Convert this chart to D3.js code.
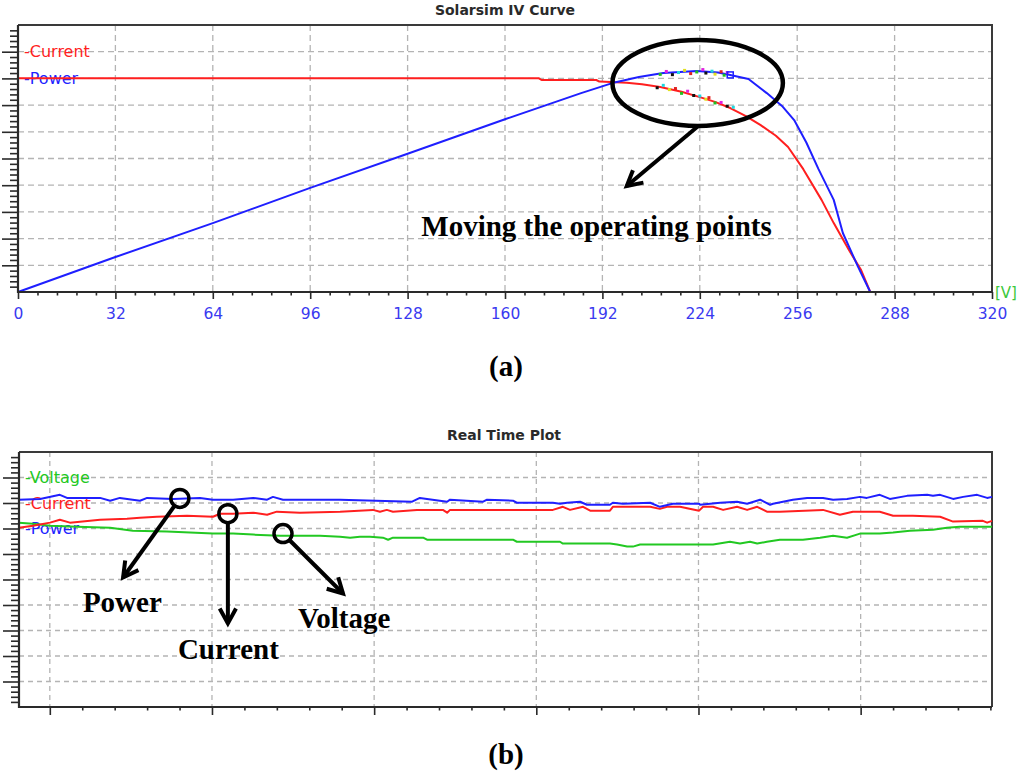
<!DOCTYPE html>
<html><head><meta charset="utf-8">
<script src="https://cdn.jsdelivr.net/npm/d3@7"></script>
<style>body{margin:0;background:#fff} svg{display:block}</style>
</head><body>
<svg id="c" width="1024" height="776"></svg>
<script>
// ---------- (a) Solarsim IV curve data ----------
const ivTicks = [0, 32, 64, 96, 128, 160, 192, 224, 256, 288, 320];
const ivVoltage = [0, 171, 172, 190, 191, 200, 205, 211, 218, 224, 229, 234, 239, 244, 249, 253, 258, 264, 268, 273, 277, 280];
const ivCurrent = [8.01, 8.01, 7.94, 7.94, 7.88, 7.84, 7.78, 7.68, 7.50, 7.30, 7.12, 6.89, 6.60, 6.25, 5.85, 5.43, 4.60, 3.45, 2.58, 1.57, 0.82, 0];
const pvVoltage = [0, 32, 64, 96, 128, 160, 185, 196, 204, 212, 223, 230, 234, 240, 246, 251, 255, 259, 263, 268, 271, 276, 280];
const pvPower = [0, 1.31, 2.58, 3.90, 5.18, 6.47, 7.45, 7.85, 8.05, 8.20, 8.28, 8.22, 8.13, 7.98, 7.45, 6.97, 6.44, 5.60, 4.60, 3.45, 2.21, 0.94, 0];
// operating points (moving)
const opPowerV = [211, 213, 215, 217, 219, 221, 223, 225, 226, 228, 229, 231, 232, 233];
const opPowerP = [8.15, 8.26, 8.14, 8.22, 8.30, 8.18, 8.24, 8.33, 8.20, 8.27, 8.16, 8.25, 8.12, 8.22];
const opCurrentV = [210, 212, 214, 216, 218, 220, 222, 224, 226, 227, 229, 231, 233, 235];
const opCurrentI = [7.65, 7.74, 7.58, 7.62, 7.44, 7.52, 7.36, 7.34, 7.22, 7.28, 7.08, 7.10, 6.96, 6.92];
const opColors = ["#20c020", "#e020e0", "#101010", "#20d8e0", "#e0e020", "#e02020"];
const opLast = [234, 8.13];

// ---------- (b) Real time plot data ----------
const rtPowerT = [-9.5, -3, 3.1, 5.3, 15.5, 18.6, 21.6, 27.8, 30, 38, 46.3, 50.3, 56.5, 62.7, 67, 68.8, 71.9, 81.1, 89.5, 111.7, 114.1, 116.3, 122.5, 123.4, 133.6, 134.8, 142.8, 144, 155.1, 157.3, 159.5, 163.5, 165.6, 167.5, 172.7, 173.6, 176.7, 185.1, 188.1, 192.1, 194.3, 200.2, 200.5, 206.7, 211.9, 215, 219, 222.1, 223, 229.1, 233.5, 238.4, 241.5, 245.8, 249.8, 251.9, 255.9, 259, 264.3, 270.5, 272.3, 274.5, 278.5, 281.6, 285.9, 289, 290.5];
const rtPowerV = [8.13, 8.16, 8.32, 8.20, 8.20, 8.09, 8.20, 8.09, 8.20, 8.16, 8.20, 8.13, 8.13, 8.20, 8.13, 8.24, 8.13, 8.13, 8.13, 8.05, 8.20, 8.16, 8.05, 8.13, 8.05, 8.13, 8.09, 8.01, 8.01, 7.97, 8.01, 8.05, 7.93, 7.93, 7.93, 8.01, 7.97, 8.01, 7.85, 7.97, 7.97, 7.97, 7.93, 8.01, 8.05, 7.97, 8.13, 7.93, 7.97, 8.13, 8.20, 8.20, 8.13, 8.16, 8.24, 8.20, 8.32, 8.16, 8.28, 8.32, 8.28, 8.32, 8.16, 8.24, 8.32, 8.20, 8.24];
const rtCurrentT = [-9.5, -5.2, 0.06, 3.1, 6.2, 15.5, 23.8, 27.8, 33, 42.3, 50.3, 52.5, 56.5, 62.7, 67, 70, 77.1, 89.5, 99.6, 101.8, 103.9, 105.8, 113.2, 121.2, 122.5, 123.4, 155.1, 158.2, 160.4, 164.4, 166.6, 172.7, 173.6, 185.1, 188.1, 190.3, 194.3, 200.2, 201.4, 204.5, 207.6, 211.9, 215, 218.1, 221.1, 225.1, 238.4, 243.6, 247.6, 251.9, 255.9, 260, 266.1, 274.5, 278.5, 287.7, 289, 290.5];
const rtCurrentV = [7.03, 7.11, 7.23, 7.34, 7.23, 7.34, 7.38, 7.42, 7.46, 7.50, 7.46, 7.58, 7.58, 7.62, 7.54, 7.66, 7.62, 7.66, 7.73, 7.66, 7.73, 7.66, 7.73, 7.73, 7.62, 7.73, 7.73, 7.85, 7.73, 7.85, 7.70, 7.70, 7.85, 7.85, 7.77, 7.85, 7.85, 7.70, 7.85, 7.85, 7.73, 7.85, 7.73, 7.85, 7.66, 7.66, 7.73, 7.54, 7.66, 7.66, 7.66, 7.50, 7.50, 7.46, 7.27, 7.30, 7.23, 7.30];
const rtVoltageT = [-9.5, -5.2, 0.06, 8.4, 18.6, 25.6, 36.1, 50.3, 56.5, 62.7, 71, 83.3, 89.5, 92.6, 95.6, 98.7, 102.7, 104.3, 105.8, 115.1, 116.3, 142.8, 144, 157.3, 158.2, 172.7, 174.9, 178, 179.8, 182, 194.3, 204.5, 209.7, 212.8, 215.9, 218.1, 221.1, 225.1, 232.2, 237.5, 241.5, 245.8, 249.8, 255.9, 260, 265.2, 272.3, 276.6, 280.6, 290.5];
const rtVoltageV = [7.23, 7.19, 7.11, 7.07, 7.03, 6.91, 6.88, 6.80, 6.80, 6.76, 6.72, 6.72, 6.68, 6.64, 6.68, 6.68, 6.64, 6.56, 6.64, 6.64, 6.56, 6.56, 6.48, 6.48, 6.41, 6.41, 6.37, 6.29, 6.29, 6.37, 6.37, 6.37, 6.48, 6.41, 6.48, 6.41, 6.48, 6.56, 6.56, 6.64, 6.72, 6.64, 6.80, 6.80, 6.84, 6.91, 6.95, 7.03, 7.07, 7.07];
const rtMajorTicks = [0, 50, 100, 150, 200, 250];

const RED = "#ff1f1f", BLUE = "#1f1fff", GREEN = "#22c822";
const svg = d3.select("#c");

function panel(cfg) {
  const x = d3.scaleLinear().domain(cfg.xDomain).range([cfg.left, cfg.right]);
  const y = d3.scaleLinear().domain([0, 10]).range([cfg.bottom, cfg.top]);
  const g = svg.append("g");
  g.append("g").selectAll("line").data(d3.range(1, 10)).join("line")
    .attr("x1", cfg.left).attr("x2", cfg.right).attr("y1", d => y(d)).attr("y2", d => y(d))
    .attr("stroke", "#b4b4b4").attr("stroke-width", 1.3).attr("stroke-dasharray", cfg.dash);
  g.append("g").selectAll("line").data(cfg.gridX).join("line")
    .attr("x1", d => x(d)).attr("x2", d => x(d)).attr("y1", cfg.top).attr("y2", cfg.bottom)
    .attr("stroke", "#b4b4b4").attr("stroke-width", 1.3).attr("stroke-dasharray", cfg.dash);
  g.append("path").attr("d", `M${cfg.left},${cfg.top}H${cfg.right}V${cfg.bottom}`)
    .attr("fill", "none").attr("stroke", "#3a3a3a").attr("stroke-width", 2);
  g.append("text").attr("x", cfg.titleX).attr("y", cfg.titleY).attr("text-anchor", "middle")
    .attr("font-family", "DejaVu Sans").attr("font-weight", "bold").attr("font-size", 14)
    .attr("fill", "#2a2a2a").text(cfg.title);
  return {x, y, g};
}

function axes(p, cfg) {
  const yMinor = d3.range(1, 50).filter(i => i % 5).map(i => i / 5);
  const yMajor = d3.range(1, 10);
  const style = s => { s.select(".domain").remove(); s.selectAll(".tick line").attr("stroke", "#2a2a2a").attr("stroke-width", 1.6); };
  p.g.append("g").attr("transform", `translate(${cfg.left},0)`)
    .call(d3.axisLeft(p.y).tickValues(yMinor).tickSize(8).tickFormat("")).call(style);
  p.g.append("g").attr("transform", `translate(${cfg.left},0)`)
    .call(d3.axisLeft(p.y).tickValues(yMajor).tickSize(16).tickFormat("")).call(style);
  p.g.append("g").attr("transform", `translate(0,${cfg.bottom})`)
    .call(d3.axisBottom(p.x).tickValues(cfg.xMinor).tickSize(3.5).tickFormat("")).call(style);
  const maj = p.g.append("g").attr("transform", `translate(0,${cfg.bottom})`)
    .call(d3.axisBottom(p.x).tickValues(cfg.xMajor).tickSize(cfg.majorSize).tickPadding(9)
      .tickFormat(cfg.labels ? d3.format("d") : "")).call(style);
  maj.selectAll("text").attr("font-family", "DejaVu Sans").attr("font-size", 15.5).attr("fill", "#3a3af0");
  p.g.append("path").attr("d", `M${cfg.left},${cfg.top}V${cfg.bottom}H${cfg.right}`)
    .attr("fill", "none").attr("stroke", "#2a2a2a").attr("stroke-width", 2.2);
}

function legend(p, items) {
  p.g.append("g").selectAll("text").data(items).join("text")
    .attr("x", p.x.range()[0] + 6).attr("y", d => p.y(d.at)).attr("dy", "0.36em")
    .attr("font-family", "DejaVu Sans").attr("font-size", 16).attr("fill", d => d.color)
    .text(d => d.label);
}

function series(p, xs, ys, color, w) {
  const line = d3.line().x(d => p.x(d[0])).y(d => p.y(d[1]));
  p.g.append("path").datum(d3.zip(xs, ys)).attr("d", line)
    .attr("fill", "none").attr("stroke", color).attr("stroke-width", w || 2).attr("stroke-linejoin", "round");
}

function arrow(g, x1, y1, x2, y2) {
  g.append("line").attr("x1", x1).attr("y1", y1).attr("x2", x2).attr("y2", y2)
    .attr("stroke", "#000").attr("stroke-width", 4);
  const a = Math.atan2(y2 - y1, x2 - x1), L = 17, s = 0.5;
  const p1 = [x2 - L * Math.cos(a - s), y2 - L * Math.sin(a - s)];
  const p2 = [x2 - L * Math.cos(a + s), y2 - L * Math.sin(a + s)];
  g.append("path").attr("d", `M${p1}L${x2},${y2}L${p2}`)
    .attr("fill", "none").attr("stroke", "#000").attr("stroke-width", 4).attr("stroke-linejoin", "miter");
}

function bigText(g, x, y, t) {
  g.append("text").attr("x", x).attr("y", y).attr("font-family", "Liberation Serif")
    .attr("font-weight", "bold").attr("font-size", 29).attr("fill", "#000").text(t);
}

// ---------------- Panel (a) ----------------
const cfgA = {left: 18, right: 992, top: 25, bottom: 292, xDomain: [0, 320],
  gridX: ivTicks.slice(1, -1), dash: "6,4", title: "Solarsim IV Curve", titleX: 505, titleY: 15,
  xMajor: ivTicks, xMinor: d3.range(0, 50).filter(i => i % 5).map(i => i * 6.4), majorSize: 7, labels: true};
const A = panel(cfgA);
legend(A, [{label: "-Current", at: 9, color: RED}, {label: "-Power", at: 8, color: BLUE}]);
series(A, ivVoltage, ivCurrent, RED, 2);
series(A, pvVoltage, pvPower, BLUE, 2);
A.g.append("g").selectAll("rect").data(d3.zip(opPowerV, opPowerP).concat(d3.zip(opCurrentV, opCurrentI))).join("rect")
  .attr("x", d => A.x(d[0]) - 1.5).attr("y", d => A.y(d[1]) - 1.5).attr("width", 3).attr("height", 3)
  .attr("fill", (d, i) => opColors[i % opColors.length]);
A.g.append("rect").attr("x", A.x(opLast[0]) - 3).attr("y", A.y(opLast[1]) - 3).attr("width", 6).attr("height", 6)
  .attr("fill", "none").attr("stroke", BLUE).attr("stroke-width", 1.5);
axes(A, cfgA);
A.g.append("text").attr("x", 995).attr("y", 298).attr("font-family", "DejaVu Sans").attr("font-size", 15)
  .attr("fill", "#3cc83c").text("[V]");
A.g.append("ellipse").attr("cx", A.x(223.3)).attr("cy", A.y(7.83))
  .attr("rx", A.x(223.3 + 28) - A.x(223.3)).attr("ry", A.y(7.83) - A.y(7.83 + 1.61))
  .attr("fill", "none").attr("stroke", "#000").attr("stroke-width", 4.5);
arrow(A.g, A.x(223.3), A.y(6.2), A.x(200), A.y(3.97));
bigText(A.g, A.x(132.5), A.y(2.1), "Moving the operating points");
svg.append("text").attr("x", 506).attr("y", 376).attr("text-anchor", "middle").attr("font-family", "Liberation Serif")
  .attr("font-size", 29).attr("font-weight", "bold").text("(a)");

// ---------------- Panel (b) ----------------
const cfgB = {left: 19, right: 992, top: 452, bottom: 707, xDomain: [-9.5, 290.5],
  gridX: rtMajorTicks, dash: "5,4", title: "Real Time Plot", titleX: 504, titleY: 440,
  xMajor: rtMajorTicks, xMinor: d3.range(0, 30).filter(i => i % 5).map(i => i * 10), majorSize: 8, labels: false};
const B = panel(cfgB);
legend(B, [{label: "-Voltage", at: 9, color: GREEN}, {label: "-Current", at: 8, color: RED}, {label: "-Power", at: 7, color: BLUE}]);
series(B, rtVoltageT, rtVoltageV, GREEN, 2);
series(B, rtCurrentT, rtCurrentV, RED, 2);
series(B, rtPowerT, rtPowerV, BLUE, 2);
axes(B, cfgB);
const marks = [
  {t: 40.1, v: 8.18, tipT: 22.6, tipV: 5.08},
  {t: 54.9, v: 7.58, tipT: 54.9, tipV: 3.28},
  {t: 71.9, v: 6.80, tipT: 90.4, tipV: 4.45}
];
marks.forEach(m => {
  const cx = B.x(m.t), cy = B.y(m.v), tx = B.x(m.tipT), ty = B.y(m.tipV), r = 9;
  B.g.append("circle").attr("cx", cx).attr("cy", cy).attr("r", r).attr("fill", "none")
    .attr("stroke", "#000").attr("stroke-width", 3.5);
  const a = Math.atan2(ty - cy, tx - cx);
  arrow(B.g, cx + r * Math.cos(a), cy + r * Math.sin(a), tx, ty);
});
bigText(B.g, B.x(10.2), B.y(3.71), "Power");
bigText(B.g, B.x(39.5), B.y(1.88), "Current");
bigText(B.g, B.x(76.5), B.y(3.09), "Voltage");
svg.append("text").attr("x", 506).attr("y", 764).attr("text-anchor", "middle").attr("font-family", "Liberation Serif")
  .attr("font-size", 29).attr("font-weight", "bold").text("(b)");
</script>
</body></html>
